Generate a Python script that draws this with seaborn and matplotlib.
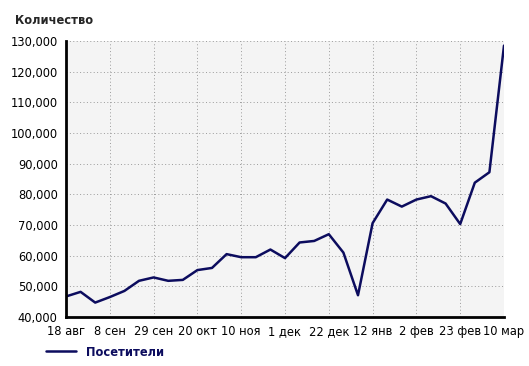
import matplotlib
matplotlib.use("Agg")
import matplotlib.pyplot as plt
import seaborn as sns
import pandas as pd
from matplotlib.ticker import FuncFormatter

week_index = list(range(31))
visitors = [46700, 48200, 44700, 46500, 48500, 51800, 52900, 51800, 52100, 55300,
            56000, 60500, 59500, 59500, 62000, 59200, 64300, 64800, 67000, 61000,
            47100, 70600, 78300, 76000, 78300, 79400, 77000, 70300, 83800, 87200,
            128500]
tick_pos = [0, 3, 6, 9, 12, 15, 18, 21, 24, 27, 30]
tick_labels = ["18 авг", "8 сен", "29 сен", "20 окт", "10 ноя", "1 дек",
               "22 дек", "12 янв", "2 фев", "23 фев", "10 мар"]
y_ticks = list(range(40000, 130001, 10000))
series_name = "Посетители"

df = pd.DataFrame({"week": week_index, "value": visitors})

sns.set_style("white")
plt.rcParams['font.family'] = ['DejaVu Sans']

W, H = 529, 366
fig = plt.figure(figsize=(W / 100, H / 100), dpi=100)
ax = fig.add_axes([66 / W, 1 - 317 / H, (504 - 66) / W, (317 - 41) / H])
ax.set_facecolor("#f4f4f4")

navy = "#0c0c5e"
sns.lineplot(data=df, x="week", y="value", ax=ax, color=navy, linewidth=1.8,
             label=series_name)

ax.set_xlim(0, 30)
ax.set_ylim(40000, 130000)
ax.set_xticks(tick_pos)
ax.set_xticklabels(tick_labels)
ax.set_yticks(y_ticks)
ax.yaxis.set_major_formatter(FuncFormatter(lambda v, p: f"{int(v):,}"))
ax.set_xlabel("")
ax.set_ylabel("")

ax.grid(True, linestyle=(0, (1, 2.5)), color="#9a9a9a", linewidth=0.7)
ax.set_axisbelow(True)
for s in ["top", "right"]:
    ax.spines[s].set_visible(False)
for s in ["left", "bottom"]:
    ax.spines[s].set_color("black")
    ax.spines[s].set_linewidth(2)

ax.tick_params(axis="both", which="major", labelsize=8.3, colors="black",
               length=4, width=1.2, direction="out", pad=2)

fig.text(15 / W, 1 - 20 / H, "Количество", fontsize=8.3, fontweight="bold",
         ha="left", va="center")

leg = ax.legend(loc="center left", bbox_to_anchor=(46 / W, 1 - 352 / H),
                bbox_transform=fig.transFigure, frameon=False, borderpad=0,
                borderaxespad=0, handlelength=2.6, handletextpad=0.9,
                prop={"size": 8.3, "weight": "bold"})
for t in leg.get_texts():
    t.set_color(navy)

fig.savefig("out.png", dpi=100)
